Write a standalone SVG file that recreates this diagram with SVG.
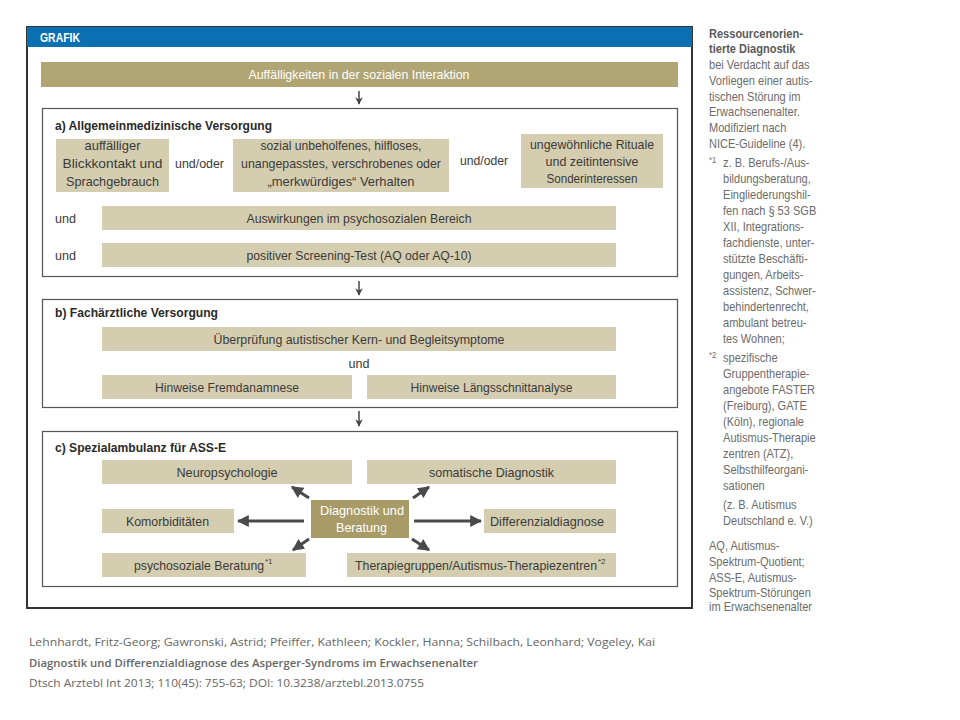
<svg xmlns="http://www.w3.org/2000/svg" width="960" height="720" viewBox="0 0 960 720">
<style>
.t{font-family:"Liberation Sans",Arial,sans-serif;font-size:13.5px;fill:#3a3a3a}
.tc{text-anchor:middle}
.b{font-weight:bold;fill:#2a2a2a}
.w{fill:#fff}
.sup{font-size:8px}
.box{fill:#d5cdaf}
.sec{fill:#fff;stroke:#555;stroke-width:1.2}
.side{font-family:"Liberation Sans",Arial,sans-serif;font-size:13px;fill:#6b6b6b}
.sb{font-weight:bold;fill:#5a5a5a}
.ss{font-size:9px}
.foot{font-family:"Open Sans","DejaVu Sans",sans-serif;font-size:10.5px;fill:#666}
.arr{stroke:#4a4a4a;stroke-width:3;fill:none;marker-end:url(#ah)}
.arr2{stroke:#444;stroke-width:1.5;fill:none;marker-end:url(#ah2)}
</style>
<defs>
<marker id="ah" viewBox="0 0 10 10" refX="9" refY="5" markerWidth="4" markerHeight="4" orient="auto" markerUnits="strokeWidth"><path d="M0,0 L10,5 L0,10 z" fill="#4a4a4a"/></marker>
<marker id="ah2" viewBox="0 0 10 10" refX="9" refY="5" markerWidth="5" markerHeight="5" orient="auto" markerUnits="strokeWidth"><path d="M0,0 L10,5 L0,10 L3,5 z" fill="#444"/></marker>
</defs>
<rect width="960" height="720" fill="#fff"/>
<g id="frame">
<rect x="27" y="27" width="665" height="581" fill="#fff" stroke="#333" stroke-width="2"/>
<rect x="27" y="27" width="665" height="20" fill="#0a70b2"/>
<text x="40" y="42" class="t b w" style="font-size:12px" textLength="40" lengthAdjust="spacingAndGlyphs">GRAFIK</text>
</g>
<g id="top">
<rect x="41" y="62" width="637" height="25" fill="#b1a574"/>
<text x="359" y="79" class="t tc w" textLength="221" lengthAdjust="spacingAndGlyphs">Auffälligkeiten in der sozialen Interaktion</text>
</g>
<g id="secA">
<rect x="42.5" y="108.5" width="635" height="168" class="sec"/>
<text x="55" y="130" class="t b" textLength="217" lengthAdjust="spacingAndGlyphs">a) Allgemeinmedizinische Versorgung</text>
</g>
<g id="a1">
<rect x="56" y="139" width="113" height="53" class="box"/>
<text x="112.5" y="150" class="t tc" textLength="56" lengthAdjust="spacingAndGlyphs">auffälliger</text>
<text x="112.5" y="168" class="t tc" textLength="100" lengthAdjust="spacingAndGlyphs">Blickkontakt und</text>
<text x="112.5" y="186" class="t tc" textLength="93" lengthAdjust="spacingAndGlyphs">Sprachgebrauch</text>
</g>
<text x="175" y="168" class="t" textLength="49" lengthAdjust="spacingAndGlyphs">und/oder</text>
<g id="a2">
<rect x="233" y="139" width="216" height="53" class="box"/>
<text x="341" y="150" class="t tc" textLength="161" lengthAdjust="spacingAndGlyphs">sozial unbeholfenes, hilfloses,</text>
<text x="341" y="168" class="t tc" textLength="200" lengthAdjust="spacingAndGlyphs">unangepasstes, verschrobenes oder</text>
<text x="341" y="186" class="t tc" textLength="147" lengthAdjust="spacingAndGlyphs">„merkwürdiges“ Verhalten</text>
</g>
<text x="460" y="165" class="t" textLength="48" lengthAdjust="spacingAndGlyphs">und/oder</text>
<g id="a3">
<rect x="521" y="134" width="142" height="54" class="box"/>
<text x="592" y="149" class="t tc" textLength="124" lengthAdjust="spacingAndGlyphs">ungewöhnliche Rituale</text>
<text x="592" y="166" class="t tc" textLength="93" lengthAdjust="spacingAndGlyphs">und zeitintensive</text>
<text x="592" y="183" class="t tc" textLength="91" lengthAdjust="spacingAndGlyphs">Sonderinteressen</text>
</g>
<text x="55" y="223" class="t" textLength="21" lengthAdjust="spacingAndGlyphs">und</text>
<g id="a4">
<rect x="102" y="206" width="514" height="24" class="box"/>
<text x="359" y="223" class="t tc" textLength="225" lengthAdjust="spacingAndGlyphs">Auswirkungen im psychosozialen Bereich</text>
</g>
<text x="55" y="260" class="t" textLength="21" lengthAdjust="spacingAndGlyphs">und</text>
<g id="a5">
<rect x="102" y="243" width="514" height="24" class="box"/>
<text x="359" y="260" class="t tc" textLength="225" lengthAdjust="spacingAndGlyphs">positiver Screening-Test (AQ oder AQ-10)</text>
</g>
<g id="secB">
<rect x="42.5" y="299.5" width="635" height="108" class="sec"/>
<text x="55" y="317" class="t b" textLength="163" lengthAdjust="spacingAndGlyphs">b) Fachärztliche Versorgung</text>
</g>
<g id="b1">
<rect x="102" y="327" width="514" height="24" class="box"/>
<text x="359" y="344" class="t tc" textLength="291" lengthAdjust="spacingAndGlyphs">Überprüfung autistischer Kern- und Begleitsymptome</text>
</g>
<text x="359" y="368" class="t tc" textLength="21" lengthAdjust="spacingAndGlyphs">und</text>
<g id="b2">
<rect x="102" y="375" width="250" height="24" class="box"/>
<text x="227" y="392" class="t tc" textLength="144" lengthAdjust="spacingAndGlyphs">Hinweise Fremdanamnese</text>
</g>
<g id="b3">
<rect x="367" y="375" width="249" height="24" class="box"/>
<text x="491.5" y="392" class="t tc" textLength="162" lengthAdjust="spacingAndGlyphs">Hinweise Längsschnittanalyse</text>
</g>
<g id="secC">
<rect x="42.5" y="431.5" width="635" height="155" class="sec"/>
<text x="55" y="452" class="t b" textLength="171" lengthAdjust="spacingAndGlyphs">c) Spezialambulanz für ASS-E</text>
</g>
<g id="c1">
<rect x="102" y="460" width="250" height="24" class="box"/>
<text x="227" y="477" class="t tc" textLength="101" lengthAdjust="spacingAndGlyphs">Neuropsychologie</text>
</g>
<g id="c2">
<rect x="367" y="460" width="249" height="24" class="box"/>
<text x="491.5" y="477" class="t tc" textLength="125" lengthAdjust="spacingAndGlyphs">somatische Diagnostik</text>
</g>
<g id="center">
<rect x="311" y="500" width="98" height="38" fill="#a99b67"/>
<text x="362" y="515" class="t tc w" textLength="84" lengthAdjust="spacingAndGlyphs">Diagnostik und</text>
<text x="361.5" y="532" class="t tc w" textLength="51" lengthAdjust="spacingAndGlyphs">Beratung</text>
</g>
<g id="c3">
<rect x="102" y="509" width="132" height="24" class="box"/>
<text x="167.5" y="526" class="t tc" textLength="83" lengthAdjust="spacingAndGlyphs">Komorbiditäten</text>
</g>
<g id="c4">
<rect x="484" y="509" width="132" height="24" class="box"/>
<text x="547" y="526" class="t tc" textLength="114" lengthAdjust="spacingAndGlyphs">Differenzialdiagnose</text>
</g>
<g id="c5">
<rect x="102" y="553" width="204" height="24" class="box"/>
<text x="134" y="570" class="t"><tspan textLength="130" lengthAdjust="spacingAndGlyphs">psychosoziale Beratung</tspan><tspan class="sup" dx="1" dy="-6">*1</tspan></text>
</g>
<g id="c6">
<rect x="347" y="553" width="269" height="24" class="box"/>
<text x="355" y="570" class="t"><tspan textLength="242" lengthAdjust="spacingAndGlyphs">Therapiegruppen/Autismus-Therapiezentren</tspan><tspan class="sup" dx="1" dy="-6">*2</tspan></text>
</g>
<g id="connectors">
<line x1="359" y1="91" x2="359" y2="104" class="arr2"/>
<line x1="359" y1="281" x2="359" y2="295" class="arr2"/>
<line x1="359" y1="411" x2="359" y2="426" class="arr2"/>
<line x1="304" y1="521" x2="238" y2="521" class="arr"/>
<line x1="414" y1="521" x2="481" y2="521" class="arr"/>
<line x1="309" y1="498" x2="292" y2="487" class="arr"/>
<line x1="413" y1="498" x2="429" y2="487" class="arr"/>
<line x1="309" y1="539" x2="293" y2="550" class="arr"/>
<line x1="412" y1="539" x2="429" y2="550" class="arr"/>
</g>
<g id="sidebar" transform="translate(709,0) scale(0.85,1)">
<text class="side"><tspan x="0" y="38" class="sb">Ressourcenorien-</tspan><tspan x="0" y="53" class="sb">tierte Diagnostik</tspan><tspan x="0" y="69">bei Verdacht auf das</tspan><tspan x="0" y="85">Vorliegen einer autis-</tspan><tspan x="0" y="101">tischen Störung im</tspan><tspan x="0" y="116">Erwachsenenalter.</tspan><tspan x="0" y="132">Modifiziert nach</tspan><tspan x="0" y="148">NICE-Guideline (4).</tspan></text>
<text class="side"><tspan x="0" y="163" class="ss">*1</tspan><tspan x="16.5" y="167">z. B. Berufs-/Aus-</tspan><tspan x="16.5" y="183">bildungsberatung,</tspan><tspan x="16.5" y="199">Eingliederungshil-</tspan><tspan x="16.5" y="215">fen nach § 53 SGB</tspan><tspan x="16.5" y="231">XII, Integrations-</tspan><tspan x="16.5" y="247">fachdienste, unter-</tspan><tspan x="16.5" y="263">stützte Beschäfti-</tspan><tspan x="16.5" y="279">gungen, Arbeits-</tspan><tspan x="16.5" y="295">assistenz, Schwer-</tspan><tspan x="16.5" y="311">behindertenrecht,</tspan><tspan x="16.5" y="327">ambulant betreu-</tspan><tspan x="16.5" y="343">tes Wohnen;</tspan></text>
<text class="side"><tspan x="0" y="358" class="ss">*2</tspan><tspan x="16.5" y="362">spezifische</tspan><tspan x="16.5" y="378">Gruppentherapie-</tspan><tspan x="16.5" y="394">angebote FASTER</tspan><tspan x="16.5" y="410">(Freiburg), GATE</tspan><tspan x="16.5" y="426">(Köln), regionale</tspan><tspan x="16.5" y="442">Autismus-Therapie</tspan><tspan x="16.5" y="458">zentren (ATZ),</tspan><tspan x="16.5" y="474">Selbsthilfeorgani-</tspan><tspan x="16.5" y="490">sationen</tspan><tspan x="16.5" y="509">(z. B. Autismus</tspan><tspan x="16.5" y="525">Deutschland e. V.)</tspan></text>
<text class="side"><tspan x="0" y="550">AQ, Autismus-</tspan><tspan x="0" y="566">Spektrum-Quotient;</tspan><tspan x="0" y="582">ASS-E, Autismus-</tspan><tspan x="0" y="597">Spektrum-Störungen</tspan><tspan x="0" y="611">im Erwachsenenalter</tspan></text>
</g>
<g id="footer">
<text x="29" y="646" class="foot" textLength="626" lengthAdjust="spacingAndGlyphs">Lehnhardt, Fritz-Georg; Gawronski,  Astrid; Pfeiffer, Kathleen; Kockler, Hanna; Schilbach, Leonhard; Vogeley, Kai</text>
<text x="29" y="667" class="foot" font-weight="600" textLength="449" lengthAdjust="spacingAndGlyphs">Diagnostik und Differenzialdiagnose  des Asperger-Syndroms im Erwachsenenalter</text>
<text x="29" y="687" class="foot" textLength="395" lengthAdjust="spacingAndGlyphs">Dtsch Arztebl Int 2013; 110(45): 755-63; DOI: 10.3238/arztebl.2013.0755</text>
</g>
</svg>
